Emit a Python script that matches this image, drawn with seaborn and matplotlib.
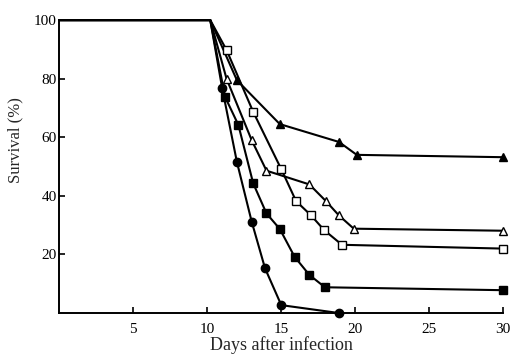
import matplotlib
matplotlib.use("Agg")
import matplotlib.pyplot as plt
import seaborn as sns
import pandas as pd

# Data
tri_filled_days = [0, 10.2, 12.0, 14.9, 18.9, 20.1, 30]
tri_filled_surv = [100, 100, 79.5, 64.5, 58.4, 54.0, 53.2]

tri_open_days = [0, 10.2, 11.3, 13.0, 14.0, 16.9, 18.0, 18.9, 19.9, 30]
tri_open_surv = [100, 100, 80.0, 59.0, 48.6, 43.9, 38.3, 33.3, 28.8, 28.1]

sq_open_days = [0, 10.2, 11.3, 13.1, 15.0, 16.0, 17.0, 17.9, 19.1, 30]
sq_open_surv = [100, 100, 89.8, 68.7, 49.1, 38.2, 33.4, 28.3, 23.3, 22.0]

sq_filled_days = [0, 10.2, 11.2, 12.1, 13.1, 14.0, 14.9, 15.9, 16.9, 17.95, 30]
sq_filled_surv = [100, 100, 73.8, 64.2, 44.3, 34.0, 28.7, 19.2, 13.0, 8.8, 7.8]

circ_days = [0, 10.2, 11.0, 12.0, 13.0, 13.9, 15.0, 18.9]
circ_surv = [100, 100, 76.9, 51.6, 31.2, 15.3, 2.7, 0.0]

x_ticks = [5, 10, 15, 20, 25, 30]
y_ticks = [20, 40, 60, 80, 100]

series = [
    ("tri_filled", tri_filled_days, tri_filled_surv, "^", "black"),
    ("tri_open", tri_open_days, tri_open_surv, "^", "white"),
    ("sq_open", sq_open_days, sq_open_surv, "s", "white"),
    ("sq_filled", sq_filled_days, sq_filled_surv, "s", "black"),
    ("circ", circ_days, circ_surv, "o", "black"),
]

sns.set_style("ticks")
plt.rcParams["font.family"] = ["Liberation Serif", "DejaVu Serif"]

fig = plt.figure(figsize=(5.14, 3.59), dpi=100)
ax = fig.add_axes([0.1154, 0.128, 0.8637, 0.816])

for name, d, s, m, fc in series:
    df = pd.DataFrame({"day": d, "surv": s})
    sns.lineplot(data=df, x="day", y="surv", ax=ax, color="black", lw=1.5,
                 marker=m, markersize=6, markerfacecolor=fc,
                 markeredgecolor="black", markeredgewidth=1.0,
                 markevery=list(range(2, len(d))),
                 clip_on=False, legend=False)

ax.set_xlim(0, 30)
ax.set_ylim(0, 100)
ax.set_xticks(x_ticks)
ax.set_yticks(y_ticks)
ax.tick_params(direction="in", length=4, width=1.2, labelsize=11, colors="black")
ax.tick_params(axis="x", pad=7)
ax.tick_params(axis="y", pad=2)
for sp in ["top", "right"]:
    ax.spines[sp].set_visible(False)
for sp in ["left", "bottom"]:
    ax.spines[sp].set_linewidth(1.4)
    ax.spines[sp].set_color("black")

ax.set_xlabel("Days after infection", fontsize=13, labelpad=0)
ax.set_ylabel("Survival (%)", fontsize=12, labelpad=8)
ax.yaxis.set_label_coords(-0.08, 0.59)

fig.savefig("out.png", dpi=100)
